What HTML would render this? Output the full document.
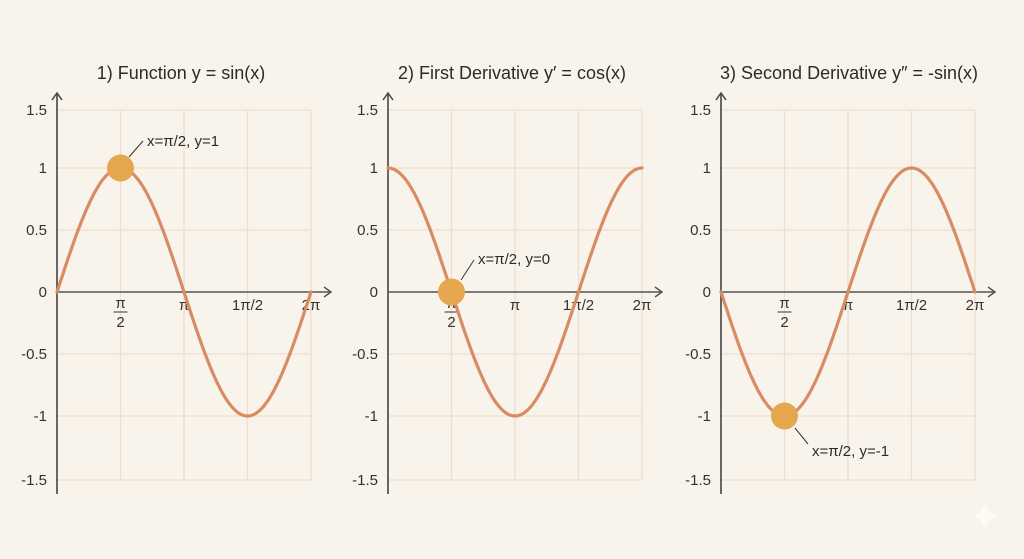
<!DOCTYPE html>
<html><head><meta charset="utf-8"><style>
html,body{margin:0;padding:0;background:#f8f4eb;}
svg{display:block;font-family:"Liberation Sans",sans-serif;}
</style></head><body>
<svg id="s" width="1024" height="559" viewBox="0 0 1024 559" xmlns="http://www.w3.org/2000/svg">
<rect width="1024" height="559" fill="#f8f4eb"/>
</svg>
<script>
const s=document.getElementById('s');const NS='http://www.w3.org/2000/svg';
function el(t,a,txt){const e=document.createElementNS(NS,t);for(const k in a)e.setAttribute(k,a[k]);if(txt!==undefined)e.textContent=txt;s.appendChild(e);return e;}
const ys={'1.5':110,'1':168,'0.5':230,'0':292,'-0.5':354,'-1':416,'-1.5':480};
function Y(v){return 292-124*v;}
const panels=[
 {x0:57,title:'1) Function  y = sin(x)',tx:181,f:Math.sin,dot:[Math.PI/2,1],lab:[147,146],ln:[[129,157],[143,141]],text:'x=π/2, y=1'},
 {x0:388,title:'2) First Derivative  y\u2032 = cos(x)',tx:512,f:Math.cos,dot:[Math.PI/2,0],lab:[478,264],ln:[[461,280],[474,260]],text:'x=π/2, y=0'},
 {x0:721,title:'3) Second Derivative  y\u2033 = -sin(x)',tx:849,f:x=>-Math.sin(x),dot:[Math.PI/2,-1],lab:[812,456],ln:[[795,428],[808,444]],text:'x=π/2, y=-1'}
];
for(const p of panels){
 const x0=p.x0,w=254,X=x=>x0+x/(2*Math.PI)*w;
 el('text',{x:p.tx,y:79,'font-size':18,'text-anchor':'middle',fill:'#2b2b2b'},p.title);
 for(const k in ys){if(k==='0')continue;el('line',{x1:x0,x2:x0+w,y1:ys[k],y2:ys[k],stroke:'#eddfc8','stroke-width':1.3});}
 for(let i=1;i<=4;i++)el('line',{x1:x0+i*w/4,x2:x0+i*w/4,y1:110,y2:480,stroke:'#eddfc8','stroke-width':1.3});
 el('line',{x1:x0,x2:x0,y1:93,y2:494,stroke:'#444','stroke-width':1.6});
 el('path',{d:`M${x0-5} ${100} L${x0} ${93} L${x0+5} ${100}`,stroke:'#444','stroke-width':1.5,fill:'none'});
 el('line',{x1:x0,x2:x0+274,y1:292,y2:292,stroke:'#555','stroke-width':1.6});
 el('path',{d:`M${x0+267} ${287} L${x0+274} ${292} L${x0+267} ${297}`,stroke:'#555','stroke-width':1.5,fill:'none'});
 for(const k in ys){el('text',{x:x0-10,y:ys[k]+5,'font-size':15,'text-anchor':'end',fill:'#333'},k);}
 const xl=x0+w/4;
 el('text',{x:xl,y:308,'font-size':15,'text-anchor':'middle',fill:'#333'},'π');
 el('line',{x1:xl-7,x2:xl+7,y1:312,y2:312,stroke:'#333','stroke-width':1});
 el('text',{x:xl,y:327,'font-size':15,'text-anchor':'middle',fill:'#333'},'2');
 el('text',{x:x0+w/2,y:310,'font-size':15,'text-anchor':'middle',fill:'#333'},'π');
 el('text',{x:x0+3*w/4,y:310,'font-size':15,'text-anchor':'middle',fill:'#333'},'1π/2');
 el('text',{x:x0+w,y:310,'font-size':15,'text-anchor':'middle',fill:'#333'},'2π');
 let d='';for(let i=0;i<=200;i++){const x=i/200*2*Math.PI;d+=(i?'L':'M')+X(x).toFixed(1)+' '+Y(p.f(x)).toFixed(1);}
 el('path',{d,stroke:'#d98c64','stroke-width':3.2,fill:'none','stroke-linecap':'round'});
 el('circle',{cx:X(p.dot[0]),cy:Y(p.dot[1]),r:13.5,fill:'#e7a74f'});
 el('line',{x1:p.ln[0][0],y1:p.ln[0][1],x2:p.ln[1][0],y2:p.ln[1][1],stroke:'#333','stroke-width':1});
 el('text',{x:p.lab[0],y:p.lab[1],'font-size':15,fill:'#2b2b2b'},p.text);
}
el('path',{d:'M985 502 Q987 514 998 516 Q987 518 985 530 Q983 518 972 516 Q983 514 985 502Z',fill:'#fdfbf6'});
</script>
</body></html>
